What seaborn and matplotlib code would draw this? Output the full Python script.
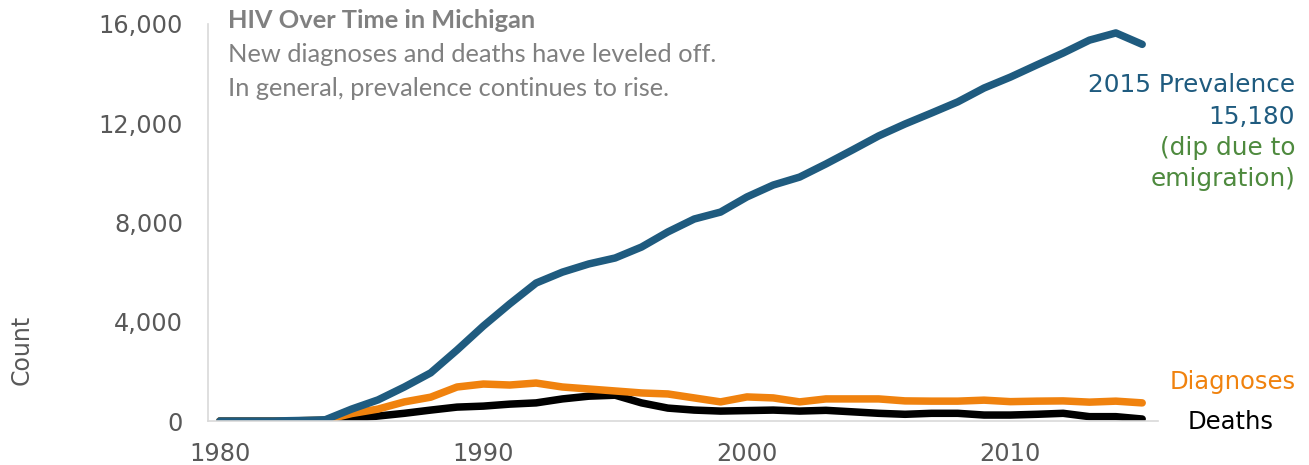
import pandas as pd
import matplotlib.pyplot as plt
import seaborn as sns

sns.set_style("white")
plt.rcParams["font.family"] = ["DejaVu Sans"]

# --- Data ---
years = list(range(1980, 2016))
prevalence = [0, 0, 0, 20, 50, 480, 850, 1370, 1940, 2860, 3830, 4720, 5560, 6000,
              6330, 6570, 7010, 7620, 8140, 8420, 9030, 9510, 9830, 10360, 10920,
              11490, 11970, 12410, 12860, 13420, 13860, 14350, 14830, 15350, 15640, 15180]
diagnoses = [0, 0, 0, 10, 40, 300, 480, 770, 960, 1370, 1490, 1450, 1530, 1370,
             1290, 1210, 1130, 1090, 930, 770, 970, 930, 770, 890, 890,
             890, 810, 800, 800, 840, 780, 800, 810, 760, 800, 730]
deaths = [0, 0, 0, 0, 10, 80, 200, 310, 440, 560, 600, 680, 730, 890,
          1000, 1040, 730, 520, 440, 400, 420, 440, 400, 430, 370,
          310, 270, 310, 310, 240, 240, 270, 310, 175, 175, 80]

df = pd.DataFrame({
    "year": years * 3,
    "count": prevalence + diagnoses + deaths,
    "series": ["Prevalence"] * len(years) + ["Diagnoses"] * len(years) + ["Deaths"] * len(years),
})

colors = {"Prevalence": "#1F5B7F", "Diagnoses": "#F0820E", "Deaths": "#000000"}

fig = plt.figure(figsize=(13.09, 4.65), dpi=100)
ax = fig.add_axes([208 / 1309, 1 - 421 / 465, (1158 - 208) / 1309, (421 - 24) / 465])

sns.lineplot(data=df, x="year", y="count", hue="series", palette=colors,
             hue_order=["Deaths", "Diagnoses", "Prevalence"],
             linewidth=5.4, ax=ax, legend=False)
for line in ax.lines:
    line.set_solid_capstyle("round")
    line.set_solid_joinstyle("round")

ax.set_xlim(1979.55, 2015.6)
ax.set_ylim(0, 16000)
ax.set_xticks([1980, 1990, 2000, 2010])
ax.set_yticks([0, 4000, 8000, 12000, 16000])
ax.set_yticklabels([f"{v:,}" for v in [0, 4000, 8000, 12000, 16000]])
ax.tick_params(axis="both", length=0, labelsize=17.3, labelcolor="#595959")
ax.tick_params(axis="y", pad=18)
ax.tick_params(axis="x", pad=15)
ax.set_xlabel("")
ax.set_ylabel("")
for side in ["top", "right"]:
    ax.spines[side].set_visible(False)
for side in ["left", "bottom"]:
    ax.spines[side].set_color("#D9D9D9")
    ax.spines[side].set_linewidth(1.2)

W, H = 1309, 465

def ft(x, y, s, **kw):
    fig.text(x / W, 1 - y / H, s, va="center", **kw)

ft(22, 350, "Count", rotation=90, ha="center", fontsize=17, color="#595959")

title_font = ["Lato", "DejaVu Sans"]
ft(228, 21, "HIV Over Time in Michigan", ha="left", fontsize=18.3, fontweight="bold",
   color="#808080", family=title_font)
ft(228, 55, "New diagnoses and deaths have leveled off.", ha="left", fontsize=18.3,
   color="#808080", family=title_font)
ft(228, 88, "In general, prevalence continues to rise.", ha="left", fontsize=18.3,
   color="#808080", family=title_font)

ft(1295, 85, "2015 Prevalence", ha="right", fontsize=17.8, color="#1F5B7F")
ft(1295, 117, "15,180", ha="right", fontsize=17.8, color="#1F5B7F")
ft(1295, 148, "(dip due to", ha="right", fontsize=17.8, color="#4E8A3E")
ft(1295, 179, "emigration)", ha="right", fontsize=17.8, color="#4E8A3E")

ft(1233, 382, "Diagnoses", ha="center", fontsize=17.5, color="#F0820E")
ft(1231, 422, "Deaths", ha="center", fontsize=17.5, color="#000000")

fig.savefig("out.png", dpi=100)
